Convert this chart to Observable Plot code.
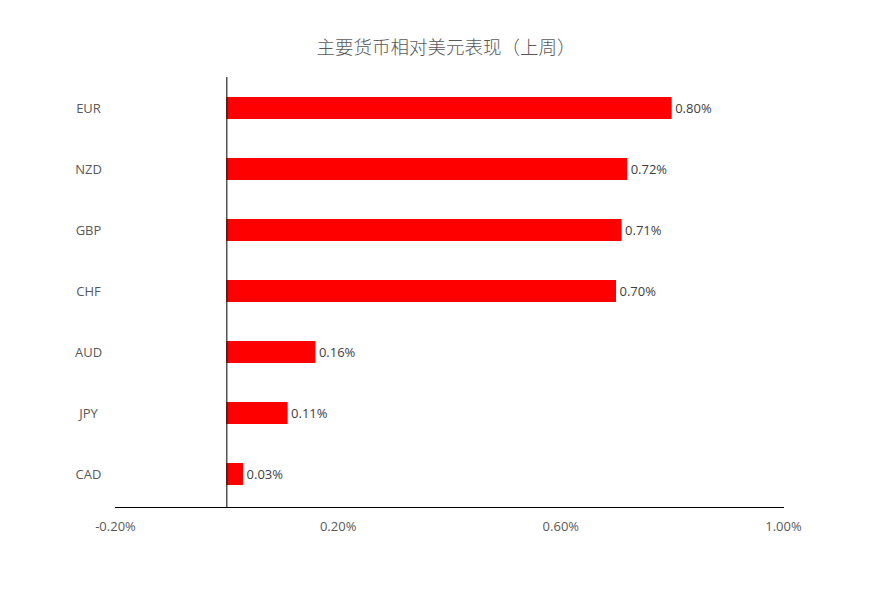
<!DOCTYPE html>
<html>
<head>
<meta charset="utf-8">
<script src="https://cdn.jsdelivr.net/npm/d3@7"></script>
<script src="https://cdn.jsdelivr.net/npm/@observablehq/plot@0.6"></script>
<style>
  html, body { margin: 0; padding: 0; background: #fff; }
  #wrap { position: relative; width: 875px; height: 596px; }
  #title { position: absolute; left: 0; top: 33px; width: 875px; text-align: center;
    font-family: "Noto Sans CJK SC", sans-serif; font-weight: 300; font-size: 18.5px; color: #595959; line-height: 26px; padding-left: 17px; box-sizing: border-box; }
</style>
</head>
<body>
<div id="wrap">
  <div id="title">主要货币相对美元表现（上周）</div>
  <div id="chart"></div>
</div>
<script>
const currencies = ["EUR", "NZD", "GBP", "CHF", "AUD", "JPY", "CAD"];
const changes = [0.80, 0.72, 0.71, 0.70, 0.16, 0.11, 0.03];
const xTicks = [-0.2, 0.2, 0.6, 1.0];

const data = currencies.map((c, i) => ({currency: c, value: changes[i]}));
const fmt = v => v.toFixed(2) + "%";

const chart = Plot.plot({
  width: 875,
  height: 596,
  marginLeft: 115,
  marginRight: 92,
  marginTop: 77,
  marginBottom: 89,
  style: {fontFamily: "'Open Sans', sans-serif", fontSize: "13px", color: "#595959", background: "transparent"},
  x: {domain: [-0.2, 1.0], axis: null, label: null},
  y: {domain: currencies, range: [75.5, 507], paddingInner: 0.64, paddingOuter: 0.32, axis: null, label: null},
  marks: [
    Plot.barX(data, {x: "value", y: "currency", fill: "#ff0000"}),
    Plot.ruleX([0], {stroke: "#000", strokeWidth: 1}),
    Plot.frame({anchor: "bottom", stroke: "#000", strokeWidth: 1}),
    Plot.text(data, {x: "value", y: "currency", text: d => fmt(d.value), textAnchor: "start", dx: 3, fill: "#404040", fontSize: 13}),
    Plot.text(currencies, {x: -0.2, y: d => d, text: d => d, textAnchor: "middle", dx: -27, fill: "#595959", fontSize: 13}),
    Plot.axisX(xTicks, {tickSize: 0, tickPadding: 14, tickFormat: fmt, fill: "#595959", fontSize: 13, label: null})
  ]
});
document.getElementById("chart").appendChild(chart);
</script>
</body>
</html>
